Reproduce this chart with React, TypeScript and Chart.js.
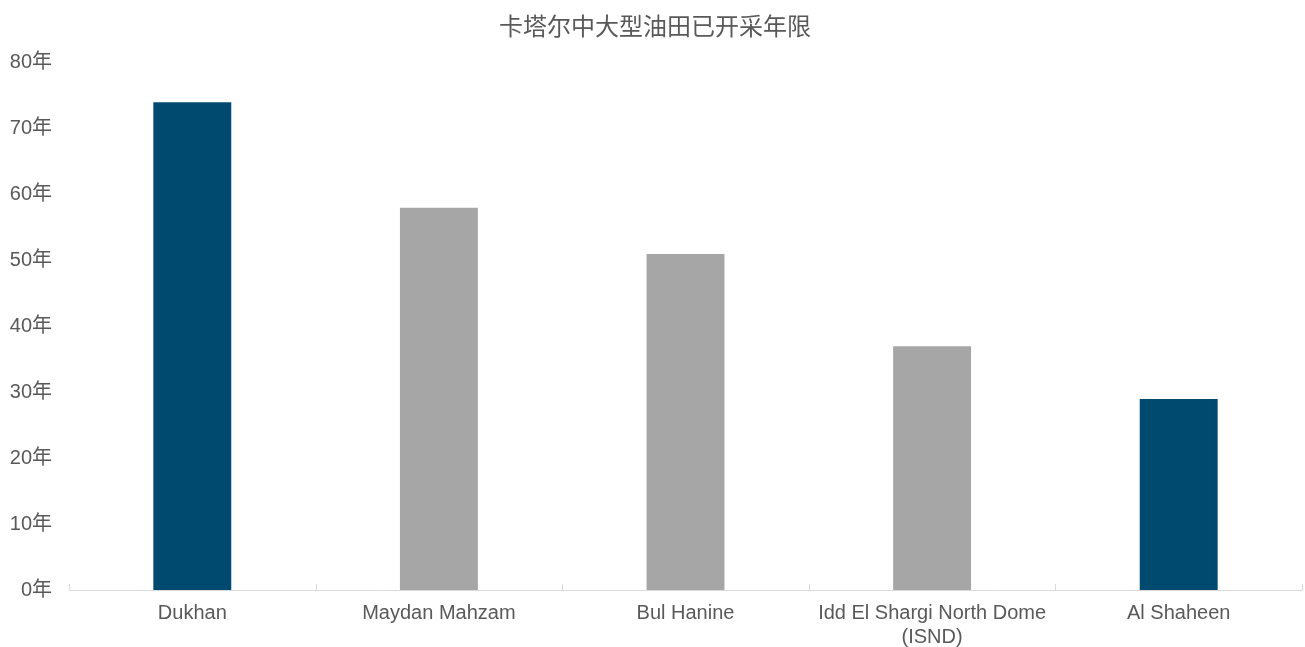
import React, { useEffect, useRef } from "react";
import { Chart, registerables } from "chart.js";

Chart.register(...registerables);

const TITLE = "卡塔尔中大型油田已开采年限";
const fields: (string | string[])[] = [
  "Dukhan",
  "Maydan Mahzam",
  "Bul Hanine",
  ["Idd El Shargi North Dome", "(ISND)"],
  "Al Shaheen",
];
const yearsProduced = [74, 58, 51, 37, 29];
const barColors = ["#004A70", "#A6A6A6", "#A6A6A6", "#A6A6A6", "#004A70"];
const yTickMax = 80;
const yTickStep = 10;
const yUnit = "年";

const TEXT = "#595959";
const AXIS = "#D9D9D9";
const FONT = "'Liberation Sans', Arial, 'Noto Sans CJK SC', sans-serif";

// small tick marks pointing up from the category axis, at each category boundary
const innerTicks = {
  id: "innerTicks",
  afterDatasetsDraw(chart: any) {
    const xs = chart.scales.x;
    const ctx = chart.ctx;
    const y = xs.top;
    ctx.save();
    ctx.strokeStyle = AXIS;
    ctx.lineWidth = 1;
    for (let i = 0; i <= fields.length; i++) {
      const x = Math.round(xs.getPixelForValue(i - 0.5)) + 0.5;
      ctx.beginPath();
      ctx.moveTo(x, y);
      ctx.lineTo(x, y - 6);
      ctx.stroke();
    }
    ctx.restore();
  },
};

export default function App() {
  const ref = useRef<HTMLCanvasElement>(null);

  useEffect(() => {
    if (!ref.current) return;
    const chart = new Chart(ref.current, {
      type: "bar",
      data: {
        labels: fields,
        datasets: [
          {
            data: yearsProduced,
            backgroundColor: barColors,
            categoryPercentage: 1,
            barPercentage: 0.316,
          },
        ],
      },
      options: {
        responsive: false,
        animation: false,
        layout: { padding: { left: 8, right: 3, top: 0, bottom: 0 } },
        plugins: {
          legend: { display: false },
          tooltip: { enabled: false },
          title: {
            display: true,
            text: TITLE,
            color: TEXT,
            font: { family: "'Noto Sans CJK SC', sans-serif", size: 24, weight: "normal" },
            padding: { top: 11, bottom: 23 },
          },
        },
        scales: {
          x: {
            grid: { display: false, drawTicks: false },
            border: { display: true, color: AXIS, width: 1 },
            ticks: {
              color: TEXT,
              font: { family: FONT, size: 20 },
              padding: 11,
              maxRotation: 0,
              autoSkip: false,
            },
            afterFit: (scale: any) => {
              scale.height = 57;
            },
          },
          y: {
            min: 0,
            max: yTickMax,
            grid: { display: false, drawTicks: false },
            border: { display: false },
            ticks: {
              stepSize: yTickStep,
              color: TEXT,
              font: { family: FONT, size: 20 },
              padding: 17,
              callback: (v: any) => `${v}${yUnit}`,
            },
            afterFit: (scale: any) => {
              scale.width = 61;
            },
          },
        },
      },
      plugins: [innerTicks],
    });
    return () => chart.destroy();
  }, []);

  return (
    <div style={{ position: "fixed", left: 0, top: 0, width: 1305, height: 647, background: "#fff" }}>
      <canvas ref={ref} width={1305} height={647} />
    </div>
  );
}
